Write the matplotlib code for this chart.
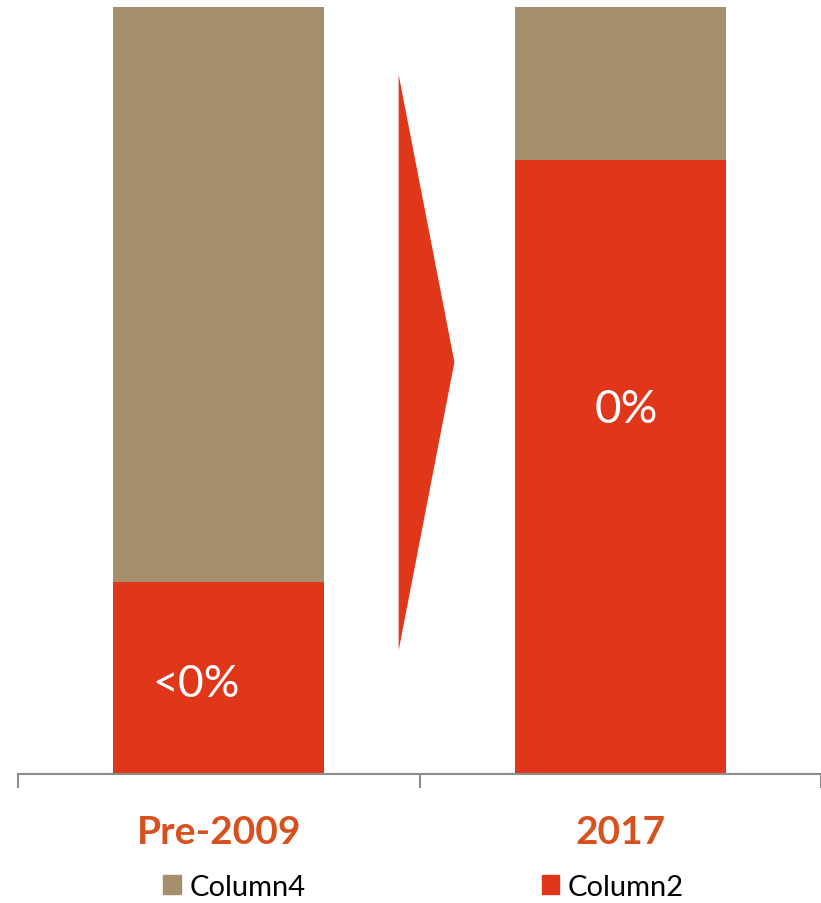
import matplotlib.pyplot as plt
from matplotlib.patches import Patch

categories = ["Pre-2009", "2017"]
column2 = [25, 80]
column4 = [75, 20]
value_labels = ["<0%", "0%"]

RED = "#E0361A"
BROWN = "#A58E6B"
LABEL_COLOR = "#D9501F"

plt.rcParams["font.family"] = ["Lato", "DejaVu Sans"]


def main():
    fig = plt.figure(figsize=(8.21, 9.04), dpi=100)
    ax = fig.add_axes([18 / 821, 129 / 904, 803 / 821, 767 / 904])

    x = list(range(len(categories)))
    ax.bar(x, column2, width=0.525, color=RED, label="Column2")
    ax.bar(x, column4, width=0.525, bottom=column2, color=BROWN, label="Column4")

    ax.set_xlim(-0.5, 1.48)
    ax.set_ylim(0, 100)

    # value labels inside the red bars
    ax.text(-0.057, 11.8, value_labels[0], color="white", fontsize=32,
            ha="center", va="center")
    ax.text(1.015, 47.6, value_labels[1], color="white", fontsize=33,
            ha="center", va="center")

    # arrow between the bars
    ax.fill([0.448, 0.587, 0.448], [91.2, 53.7, 16.1], color=RED,
            linewidth=0, clip_on=False)

    # axes styling
    for side in ["top", "right", "left"]:
        ax.spines[side].set_visible(False)
    ax.spines["bottom"].set_color("#8C8C8C")
    ax.spines["bottom"].set_linewidth(1.5)
    ax.set_yticks([])

    ax.set_xticks(x)
    ax.set_xticklabels(categories, fontsize=28, fontweight="bold",
                       color=LABEL_COLOR)
    ax.tick_params(axis="x", which="major", length=0, pad=29)
    ax.set_xticks([-0.5, 0.5, 1.5], minor=True)
    ax.tick_params(axis="x", which="minor", length=10, width=1.5,
                   color="#8C8C8C")

    handles = [Patch(color=BROWN, label="Column4"),
               Patch(color=RED, label="Column2")]
    fig.legend(handles=handles, loc="center", bbox_to_anchor=(0.516, 16 / 904),
               ncol=2, frameon=False, fontsize=21, handlelength=0.6,
               handleheight=0.6, handletextpad=0.3, columnspacing=8.1)

    fig.savefig("out.png", dpi=100)


if __name__ == "__main__":
    main()
